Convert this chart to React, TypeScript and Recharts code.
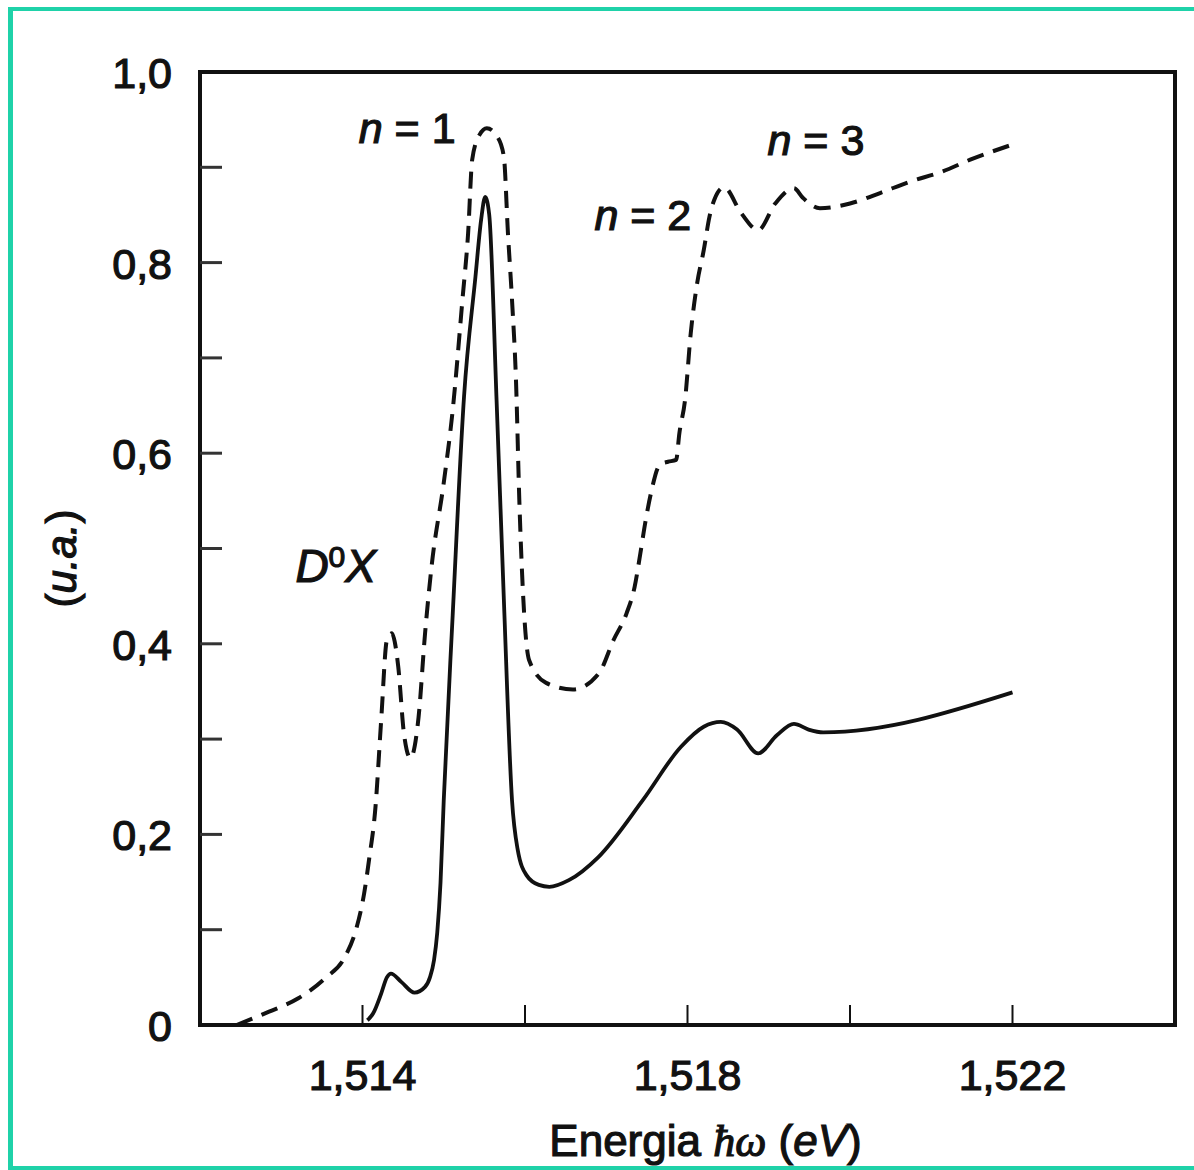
import React from "react";
import { LineChart, Line, XAxis, YAxis, ReferenceArea, ReferenceDot, Label } from "recharts";

const FONT = '"Liberation Sans", Arial, Helvetica, sans-serif';
const SERIF = '"Liberation Serif", "Times New Roman", serif';
const INK = "#111";
const TEAL = "#1fd2a9";

// curva contínua: energia (eV) e intensidade (u.a.)
const solidE = [
  1.51406, 1.51413, 1.51423, 1.5143, 1.51435, 1.51448, 1.51464, 1.51477, 1.51483, 1.51488,
  1.51492, 1.51496, 1.515, 1.51511, 1.51525, 1.51539, 1.51546, 1.51551, 1.51556, 1.51565,
  1.51574, 1.51584, 1.51591, 1.51602, 1.51617, 1.5163, 1.51654, 1.5169, 1.51745, 1.51792,
  1.5182, 1.51841, 1.51861, 1.51887, 1.5191, 1.51931, 1.51949, 1.51967, 1.522,
];
const solidY = [
  0.005, 0.012, 0.033, 0.05, 0.054, 0.045, 0.034, 0.04, 0.05, 0.068,
  0.097, 0.149, 0.236, 0.43, 0.66, 0.785, 0.845, 0.869, 0.85, 0.656,
  0.446, 0.236, 0.184, 0.157, 0.147, 0.145, 0.152, 0.176, 0.236, 0.292,
  0.313, 0.318, 0.31, 0.285, 0.304, 0.316, 0.31, 0.307, 0.349,
];

// curva tracejada
const dashE = [
  1.51245, 1.51285, 1.51321, 1.51354, 1.51378, 1.51392, 1.51402, 1.51408, 1.51416, 1.51423,
  1.5143, 1.51436, 1.51444, 1.51451, 1.51459, 1.51469, 1.51477, 1.51485, 1.515, 1.51511,
  1.51523, 1.5153, 1.51535, 1.51544, 1.51553, 1.51566, 1.51574, 1.51579, 1.51584, 1.51589,
  1.51593, 1.51598, 1.51605, 1.51626, 1.51659, 1.51691, 1.51709, 1.51725, 1.51735, 1.51742,
  1.51748, 1.51755, 1.51766, 1.51776, 1.51786, 1.5179, 1.51797, 1.51804, 1.51812, 1.5182,
  1.51827, 1.51833, 1.51845, 1.51866, 1.51887, 1.51908, 1.51931, 1.51942, 1.51963, 1.52,
  1.52037, 1.52074, 1.52112, 1.52148, 1.52197,
];
const dashY = [
  0.0, 0.014, 0.028, 0.049, 0.071, 0.1, 0.138, 0.173, 0.229, 0.32,
  0.404, 0.411, 0.376, 0.306, 0.28, 0.323, 0.411, 0.481, 0.569, 0.645,
  0.761, 0.831, 0.908, 0.934, 0.941, 0.932, 0.911, 0.831, 0.761, 0.674,
  0.551, 0.446, 0.383, 0.359, 0.352, 0.369, 0.404, 0.432, 0.46, 0.495,
  0.527, 0.558, 0.588, 0.591, 0.593, 0.621, 0.656, 0.726, 0.779, 0.813,
  0.848, 0.866, 0.879, 0.852, 0.834, 0.862, 0.878, 0.868, 0.857, 0.862,
  0.873, 0.885, 0.895, 0.908, 0.923,
];

const xTicks = [1.514, 1.516, 1.518, 1.52, 1.522];
const yTicks = [0, 0.1, 0.2, 0.3, 0.4, 0.5, 0.6, 0.7, 0.8, 0.9, 1.0];

// rótulos dos picos excitônicos n = 1, 2, 3
const peakLabelE = [1.51455, 1.51745, 1.51958];
const peakLabelY = [0.925, 0.834, 0.913];
const peakN = ["1", "2", "3"];

const solidData = solidE.map((e, i) => ({ e, v: solidY[i] }));
const dashData = dashE.map((e, i) => ({ e, v: dashY[i] }));

const textProps = {
  fontFamily: FONT,
  fill: INK,
  stroke: INK,
  strokeWidth: 1.2,
};

function XTick({ x, y, payload }: any) {
  const mev = Math.round(payload.value * 1000);
  const show = mev % 4 === 2;
  return (
    <g>
      <line x1={x} x2={x} y1={y} y2={y - 20} stroke={INK} strokeWidth={2} />
      {show && (
        <text x={x} y={y + 65} textAnchor="middle" fontSize={43} {...textProps}>
          {payload.value.toFixed(3).replace(".", ",")}
        </text>
      )}
    </g>
  );
}

function YTick({ x, y, payload }: any) {
  const v = payload.value;
  const tenth = Math.round(v * 10);
  const inner = tenth > 0 && tenth < 10;
  const show = tenth % 2 === 0;
  return (
    <g>
      {inner && <line x1={x} x2={x + 22} y1={y} y2={y} stroke="#333" strokeWidth={3} />}
      {show && (
        <text x={x - 28} y={y} dy={16} textAnchor="end" fontSize={43} {...textProps}>
          {tenth === 0 ? "0" : v.toFixed(1).replace(".", ",")}
        </text>
      )}
    </g>
  );
}

function XTitle({ viewBox }: any) {
  const cx = viewBox.x + viewBox.width / 2 + 18;
  return (
    <text x={cx} y={viewBox.y + 131} textAnchor="middle" fontSize={44} {...textProps}>
      Energia{" "}
      <tspan fontFamily={SERIF} fontStyle="italic">
        ħω
      </tspan>{" "}
      (<tspan fontStyle="italic">eV</tspan>)
    </text>
  );
}

function YTitle({ viewBox }: any) {
  const cx = 62;
  const cy = viewBox.y + viewBox.height / 2 + 10;
  return (
    <text
      x={cx}
      y={cy}
      dy={14}
      transform={`rotate(-90, ${cx}, ${cy})`}
      textAnchor="middle"
      fontSize={42}
      {...textProps}
    >
      (<tspan fontStyle="italic">u.a.</tspan>)
    </text>
  );
}

function PeakLabel(n: string) {
  return (p: any) => (
    <text x={p.cx} y={p.cy} textAnchor="middle" fontSize={43} {...textProps}>
      <tspan fontStyle="italic">n</tspan> = {n}
    </text>
  );
}

function DonorLabel(p: any) {
  return (
    <text x={p.cx} y={p.cy} textAnchor="middle" fontSize={46} {...textProps}>
      <tspan fontStyle="italic">D</tspan>
      <tspan fontSize={30} dy={-15}>
        0
      </tspan>
      <tspan fontStyle="italic" dy={15}>
        X
      </tspan>
    </text>
  );
}

export default function App() {
  return (
    <div
      style={{
        position: "absolute",
        left: 0,
        top: 0,
        width: 1194,
        height: 1170,
        overflow: "hidden",
        background: "#fff",
      }}
    >
      <LineChart width={1194} height={1170} margin={{ top: 72, right: 19, bottom: 45, left: 80 }}>
        <XAxis
          dataKey="e"
          type="number"
          domain={[1.512, 1.524]}
          ticks={xTicks}
          interval={0}
          allowDataOverflow
          axisLine={false}
          tickLine={false}
          tickSize={0}
          tickMargin={0}
          tick={<XTick />}
          height={100}
          label={<Label content={<XTitle />} />}
        />
        <YAxis
          type="number"
          domain={[0, 1]}
          ticks={yTicks}
          interval={0}
          allowDataOverflow
          axisLine={false}
          tickLine={false}
          tickSize={0}
          tickMargin={0}
          tick={<YTick />}
          width={120}
          label={<Label content={<YTitle />} />}
        />
        <Line
          data={dashData}
          dataKey="v"
          type="monotone"
          stroke={INK}
          strokeWidth={4}
          strokeDasharray="17 10"
          dot={false}
          isAnimationActive={false}
        />
        <Line
          data={solidData}
          dataKey="v"
          type="monotone"
          stroke={INK}
          strokeWidth={3.8}
          dot={false}
          isAnimationActive={false}
        />
        <ReferenceArea
          x1={1.512}
          x2={1.524}
          y1={0}
          y2={1}
          fill="none"
          stroke={INK}
          strokeWidth={4}
          ifOverflow="visible"
        />
        {peakN.map((n, i) => (
          <ReferenceDot
            key={n}
            x={peakLabelE[i]}
            y={peakLabelY[i]}
            r={1}
            shape={PeakLabel(n)}
          />
        ))}
        <ReferenceDot x={1.51367} y={0.465} r={1} shape={DonorLabel} />
      </LineChart>
      <div
        style={{
          position: "absolute",
          left: 8,
          top: 7,
          width: 1186,
          height: 1163,
          boxSizing: "border-box",
          borderLeft: `5px solid ${TEAL}`,
          borderTop: `4px solid ${TEAL}`,
          borderBottom: `4px solid ${TEAL}`,
          pointerEvents: "none",
        }}
      />
    </div>
  );
}
